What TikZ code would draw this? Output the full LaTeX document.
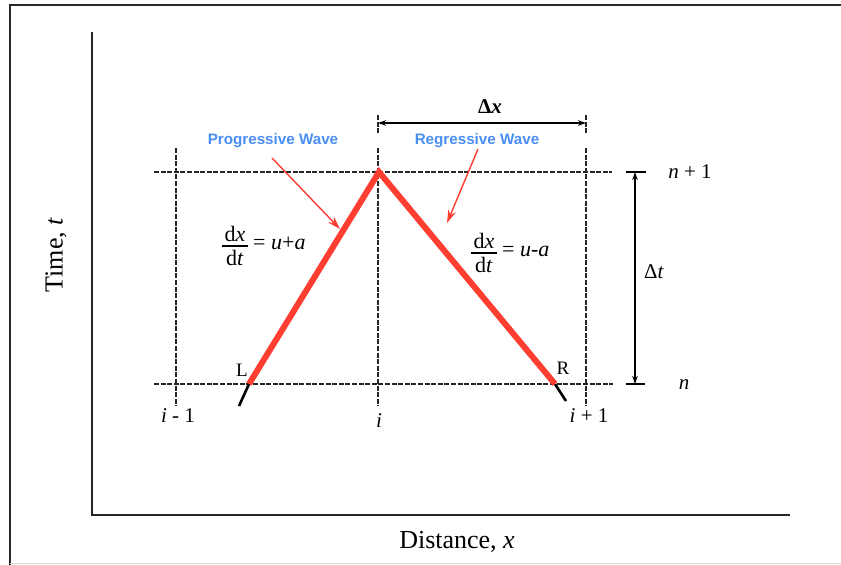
\documentclass[tikz,border=0pt]{standalone}
\usepackage{fontspec}
\setmainfont{Liberation Serif}
\newfontfamily\notefont{Liberation Sans}
\usetikzlibrary{arrows.meta}
\definecolor{wred}{RGB}{255,62,50}
\definecolor{wblue}{RGB}{74,142,242}
\definecolor{frameg}{RGB}{40,40,40}
\begin{document}
\begin{tikzpicture}[x=1pt,y=-1pt,
  gridline/.style={line width=1.2pt, dash pattern=on 5pt off 1.6pt, black!85},
  axisline/.style={line width=2.2pt, black!85},
  wave/.style={line width=6pt, wred},
  tail/.style={line width=2.6pt, black},
  note/.style={font=\notefont\bfseries\fontsize{15.2}{17}\selectfont, text=wblue, inner sep=0pt},
  notearrow/.style={line width=1.4pt, wred, -{Stealth[length=13pt,width=8pt]}},
  lab/.style={font=\fontsize{21}{23}\selectfont, inner sep=0pt},
  eqn/.style={font=\fontsize{22}{24}\selectfont, inner sep=0pt},
  big/.style={font=\fontsize{26}{28}\selectfont, inner sep=0pt},
  dim/.style={line width=1.2pt, black, {Stealth[length=8pt,width=5.5pt]}-{Stealth[length=8pt,width=5.5pt]}},
  tick/.style={line width=1.2pt, black},
  bar/.style={line width=1.3pt, black}]
\useasboundingbox (0,0) rectangle (841,565);
% frame
\draw[line width=2pt, frameg] (10,565) -- (10,5) -- (841,5);
\draw[line width=1.5pt, black!15] (10,563.5) -- (841,563.5);
% axes
\coordinate (O) at (92,515);
\coordinate (Ytop) at (92,32);
\coordinate (Xend) at (790,515);
\draw[axisline] (Ytop) -- (O) -- (Xend);
\node[big, rotate=90] (tlab) at (56,255) {Time, \textit{t}};
\node[big] (xlab) at (457,542) {Distance, \textit{x}};
% grid coordinates
\coordinate (Tl) at (154,172); \coordinate (Tr) at (612,172);
\coordinate (Bl) at (154,384); \coordinate (Br) at (613,384);
\draw[gridline] (Tl) -- (Tr);
\draw[gridline] (Bl) -- (Br);
\coordinate (Im1t) at (176,148); \coordinate (Im1b) at (176,406);
\coordinate (Iat) at (378,115); \coordinate (Iam) at (378,133);
\coordinate (Ibt) at (378,148); \coordinate (Ibb) at (378,406);
\coordinate (Ip1at) at (586,115); \coordinate (Ip1am) at (586,134);
\coordinate (Ip1bt) at (586,148); \coordinate (Ip1bb) at (586,406);
\draw[gridline] (Im1t) -- (Im1b);
\draw[gridline] (Iat) -- (Iam);
\draw[gridline] (Ibt) -- (Ibb);
\draw[gridline] (Ip1at) -- (Ip1am);
\draw[gridline] (Ip1bt) -- (Ip1bb);
% index labels
\node[lab] (im1) at (178,416) {\textit{i} - 1};
\node[lab] (ii) at (379,421) {\textit{i}};
\node[lab] (ip1) at (589,416) {\textit{i} + 1};
\node[lab] (np1) at (690,172) {\textit{n} + 1};
\node[lab] (nn) at (684,385) {\textit{n}};
% dimension dx
\coordinate (DXl) at (378,123); \coordinate (DXr) at (586,123);
\draw[dim] (DXl) -- (DXr);
\node[lab] (dxlab) at (490,107) {\bfseries Δ\textit{x}};
% dimension dt
\coordinate (DTt) at (635,172); \coordinate (DTb) at (635,384);
\coordinate (Tt1) at (626,172); \coordinate (Tt2) at (646,172);
\coordinate (Tb1) at (626,384); \coordinate (Tb2) at (645,384);
\draw[tick] (Tt1) -- (Tt2);
\draw[tick] (Tb1) -- (Tb2);
\draw[dim] (DTt) -- (DTb);
\node[lab] (dtlab) at (654,272) {Δ\textit{t}};
% characteristics
\coordinate (A) at (379,172);
\coordinate (L) at (249,384);
\coordinate (R) at (555,384);
\coordinate (Le) at (239,406);
\coordinate (Re) at (566,401);
\draw[tail] (L) -- (Le);
\draw[tail] (R) -- (Re);
\draw[wave, line join=miter] (L) -- (A) -- (R);
\node[lab, font=\fontsize{19}{21}\selectfont] (Llab) at (242,370) {L};
\node[lab, font=\fontsize{19}{21}\selectfont] (Rlab) at (563,368) {R};
% equation 1
\node[eqn, anchor=base] (n1) at (235,241) {d\textit{x}};
\node[eqn, anchor=base] (d1) at (235,265) {d\textit{t}};
\coordinate (b1l) at (222,246); \coordinate (b1r) at (248,246);
\draw[bar] (b1l) -- (b1r);
\node[eqn, anchor=base west] (r1) at (253,249) {= \textit{u}+\textit{a}};
% equation 2
\node[eqn, anchor=base] (n2) at (484,248) {d\textit{x}};
\node[eqn, anchor=base] (d2) at (484,272) {d\textit{t}};
\coordinate (b2l) at (471,253); \coordinate (b2r) at (497,253);
\draw[bar] (b2l) -- (b2r);
\node[eqn, anchor=base west] (r2) at (502,256) {= \textit{u}-\textit{a}};
% notes
\node[note] (pw) at (273,141) {Progressive Wave};
\node[note] (rw) at (477,141) {Regressive Wave};
\coordinate (PWa) at (272,158); \coordinate (PWb) at (340,229);
\coordinate (RWa) at (478,149); \coordinate (RWb) at (447,223);
\draw[notearrow] (PWa) -- (PWb);
\draw[notearrow] (RWa) -- (RWb);
\end{tikzpicture}
\end{document}
